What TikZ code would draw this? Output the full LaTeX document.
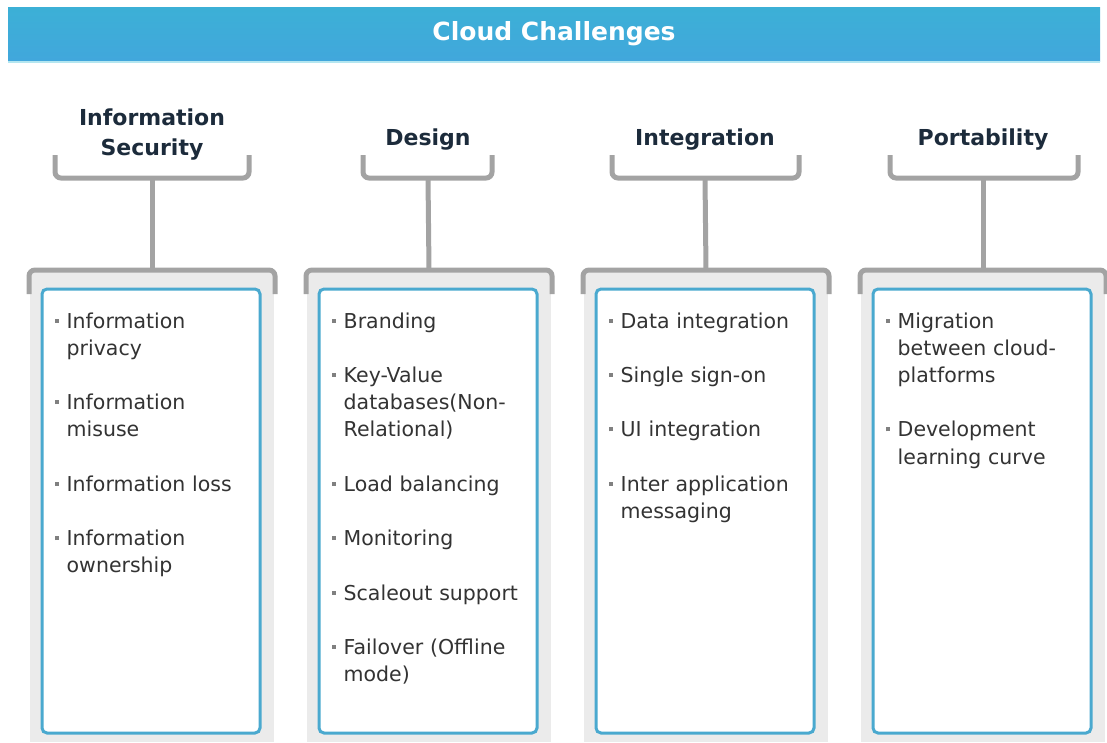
\documentclass[tikz,border=0pt]{standalone}
\usepackage{fontspec}
\setmainfont{DejaVu Sans}

\definecolor{barblue}{HTML}{3CB0D6}
\definecolor{barbluelow}{HTML}{41A7DC}
\definecolor{barline}{HTML}{B4E6F0}
\definecolor{headnavy}{HTML}{1C2B3B}
\definecolor{itemtext}{HTML}{333333}
\definecolor{bracketgray}{HTML}{A3A3A3}
\definecolor{panelgray}{HTML}{EBEBEB}
\definecolor{boxblue}{HTML}{4AA9CF}
\definecolor{bulgray}{HTML}{808080}

% small square bullet, hanging text
\newcommand{\bul}{\noindent\hangindent=11.5pt\hangafter=1\textcolor{bulgray}{\rule[5.5pt]{4pt}{4pt}}\hspace{7.5pt}}

\begin{document}
\begin{tikzpicture}[x=1pt, y=-1pt,
	heading/.style={font=\fontsize{22}{30}\selectfont\bfseries, text=headnavy, align=center},
	bracket/.style={bracketgray, line width=5pt, rounded corners=6pt},
	whitebox/.style={draw=boxblue, line width=3pt, fill=white, rounded corners=5pt},
	itemlist/.style={anchor=base west, inner sep=0pt, text width=205pt, align=left, text=itemtext,
		font=\fontsize{20.5}{27.2}\selectfont, execute at begin node={\setlength{\parskip}{27.2pt}}}]
			\useasboundingbox (0,0) rectangle (1107,742);

			% title bar
			\shade [top color=barblue, bottom color=barbluelow] (8,7) rectangle (1100,61);
			\fill [barline] (8,61) rectangle (1100,63);
			\node [text=white, font=\fontsize{25}{30}\selectfont\bfseries] (title) at (554,34) {Cloud Challenges};

			% panels
			\foreach \L/\n in {27/sec, 304/des, 581/int, 858/por} {
				\fill [panelgray] (\L+3,271) rectangle (\L+247,742);
				\draw [bracket] (\L+2,294) -- (\L+2,270) -- (\L+248,270) -- (\L+248,294);
				\draw [whitebox] (\L+15,289) rectangle (\L+233,733);
				\coordinate (\n P) at (\L+125,270);
			}

			% headings
			\node [heading] (secH) at (152,135) {Information\\Security};
			\node [heading] (desH) at (428,140) {Design};
			\node [heading] (intH) at (705,140) {Integration};
			\node [heading] (porH) at (983,140) {Portability};

			\draw [bracket] (55,155) -- (55,178) -- (249,178) -- (249,155);
			\draw [bracket] (363,155) -- (363,178) -- (492,178) -- (492,155);
			\draw [bracket] (612,155) -- (612,178) -- (799,178) -- (799,155);
			\draw [bracket] (890,155) -- (890,178) -- (1078,178) -- (1078,155);
			\coordinate (secB) at (152,178);
			\coordinate (desB) at (428,178);
			\coordinate (intB) at (705,178);
			\coordinate (porB) at (983,178);

			\draw [bracket] (secB) -- (secP);
			\draw [bracket] (desB) -- (desP);
			\draw [bracket] (intB) -- (intP);
			\draw [bracket] (porB) -- (porP);

			% lists
			\node [itemlist] (secL) at (55,328) {\bul Information\newline privacy\par
				\bul Information\newline misuse\par
				\bul Information loss\par
				\bul Information\newline ownership\par};
			\node [itemlist] (desL) at (332,328) {\bul Branding\par
				\bul Key-Value\newline databases(Non-\newline Relational)\par
				\bul Load balancing\par
				\bul Monitoring\par
				\bul Scaleout support\par
				\bul Failover (Offline\newline mode)\par};
			\node [itemlist] (intL) at (609,328) {\bul Data integration\par
				\bul Single sign-on\par
				\bul UI integration\par
				\bul Inter application\newline messaging\par};
			\node [itemlist] (porL) at (886,328) {\bul Migration\newline between cloud-\newline platforms\par
				\bul Development\newline learning curve\par};
		\end{tikzpicture}
\end{document}
